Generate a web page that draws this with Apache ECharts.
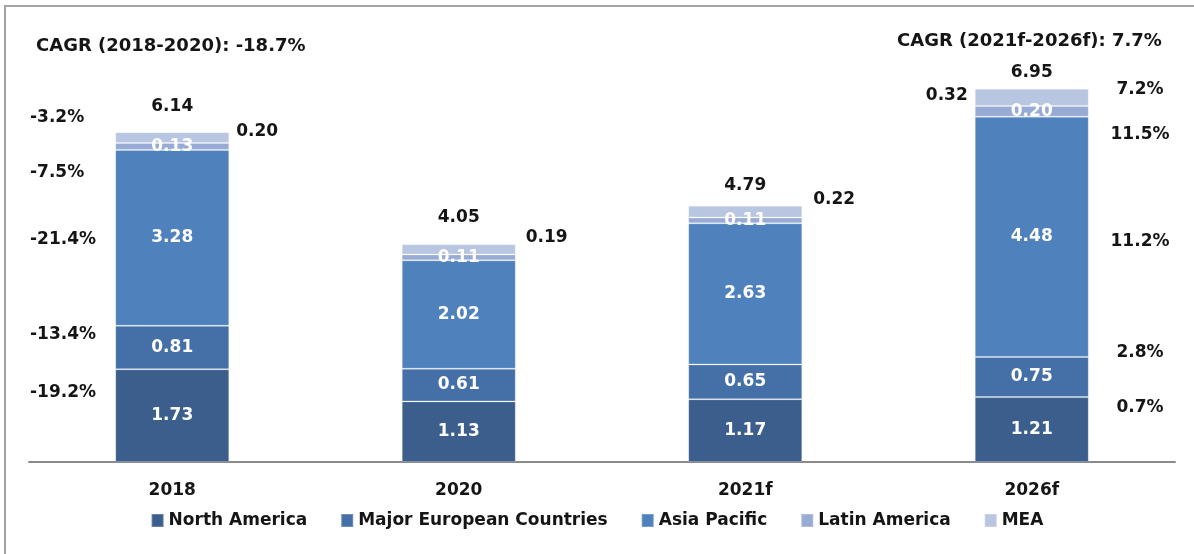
<!DOCTYPE html>
<html>
<head>
<meta charset="utf-8">
<script src="https://cdn.jsdelivr.net/npm/echarts@6/dist/echarts.min.js"></script>
<style>
  html, body { margin: 0; padding: 0; background: #fff; }
  #main { width: 1194px; height: 554px; }
</style>
</head>
<body>
<div id="main"></div>
<script>
// data
var categories = ['2018', '2020', '2021f', '2026f'];
var northAmerica = [1.73, 1.13, 1.17, 1.21];
var europe = [0.81, 0.61, 0.65, 0.75];
var asiaPacific = [3.28, 2.02, 2.63, 4.48];
var latinAmerica = [0.13, 0.11, 0.11, 0.20];
var mea = [0.20, 0.19, 0.22, 0.32];
var totals = [6.14, 4.05, 4.79, 6.95];
var seriesNames = ['North America', 'Major European Countries', 'Asia Pacific', 'Latin America', 'MEA'];
// CAGR per region, NA..MEA
var cagrPast = ['-19.2%', '-13.4%', '-21.4%', '-7.5%', '-3.2%'];
var cagrFuture = ['0.7%', '2.8%', '11.2%', '11.5%', '7.2%'];
var cagrTitlePast = 'CAGR (2018-2020): -18.7%';
var cagrTitleFuture = 'CAGR (2021f-2026f): 7.7%';

var colors = ['#3b5e8c', '#4570a7', '#4f81bd', '#97abd5', '#b9c6e1'];
var font = 'DejaVu Sans';
var txt = '#151515';

var chart = echarts.init(document.getElementById('main'));

function stackBar(name, data, color, labelFn) {
  return {
    name: name,
    type: 'bar',
    stack: 'all',
    barWidth: 114,
    itemStyle: { color: color, borderColor: 'rgba(255,255,255,0.22)', borderWidth: 1 },
    label: {
      show: true,
      position: 'inside',
      color: '#fff',
      fontFamily: font,
      fontWeight: 'bold',
      fontSize: 17,
      formatter: function (p) { return p.value.toFixed(2); }
    },
    data: labelFn ? data.map(labelFn) : data
  };
}

// outside labels for MEA
var meaLabel = [
  { position: 'right', distance: 7, offset: [0, -6] },
  { position: 'right', distance: 10, offset: [0, -12] },
  { position: 'right', distance: 11, offset: [0, -12] },
  { position: 'left', distance: 7, offset: [0, -2] }
];
var totalDist = [17, 18, 12, 8];

// text annotations (CAGR)
var leftY = [393, 335, 240, 173, 118];
var rightY = [408, 353, 242, 135, 90];
var graphics = [
  { type: 'rect', shape: { x: 5, y: 6, width: 1300, height: 700 },
    style: { fill: 'none', stroke: '#a3a3a3', lineWidth: 2 }, silent: true },
  { type: 'text', left: 36, top: 37,
    style: { text: cagrTitlePast, font: 'bold 18px "' + font + '"', fill: txt } },
  { type: 'text', left: 897, top: 32,
    style: { text: cagrTitleFuture, font: 'bold 18px "' + font + '"', fill: txt } }
];
cagrPast.forEach(function (t, i) {
  graphics.push({ type: 'text', x: 30, y: leftY[i],
    style: { text: t, font: 'bold 17px "' + font + '"', fill: txt, textAlign: 'left', textVerticalAlign: 'middle' } });
});
cagrFuture.forEach(function (t, i) {
  graphics.push({ type: 'text', x: 1140, y: rightY[i],
    style: { text: t, font: 'bold 17px "' + font + '"', fill: txt, textAlign: 'center', textVerticalAlign: 'middle' } });
});

var option = {
  animation: false,
  grid: { left: 29, right: 19, top: 33, bottom: 92 },
  legend: {
    data: seriesNames,
    bottom: 20,
    left: 'center',
    itemWidth: 12,
    itemHeight: 13,
    itemGap: 33,
    icon: 'rect',
    textStyle: { fontFamily: font, fontWeight: 'bold', fontSize: 17, color: txt }
  },
  xAxis: {
    type: 'category',
    data: categories,
    axisLine: { lineStyle: { color: '#8a8a8a', width: 2 } },
    axisTick: { length: 7, lineStyle: { color: '#8a8a8a', width: 2 } },
    axisLabel: { margin: 20, fontFamily: font, fontWeight: 'bold', fontSize: 17, color: txt }
  },
  yAxis: {
    type: 'value',
    min: 0,
    max: 8,
    show: false,
    splitLine: { show: false }
  },
  graphic: graphics,
  series: [
    stackBar(seriesNames[0], northAmerica, colors[0]),
    stackBar(seriesNames[1], europe, colors[1]),
    stackBar(seriesNames[2], asiaPacific, colors[2]),
    stackBar(seriesNames[3], latinAmerica, colors[3]),
    stackBar(seriesNames[4], mea, colors[4], function (v, i) {
      return { value: v, label: Object.assign({ color: txt }, meaLabel[i]) };
    }),
    {
      name: 'Total',
      type: 'bar',
      stack: 'all',
      barWidth: 114,
      itemStyle: { color: 'transparent' },
      label: {
        show: true,
        position: 'top',
        color: txt,
        fontFamily: font,
        fontWeight: 'bold',
        fontSize: 17
      },
      data: totals.map(function (t, i) {
        return { value: 0, label: { distance: totalDist[i], formatter: t.toFixed(2) } };
      })
    }
  ]
};
option && chart.setOption(option);
</script>
</body>
</html>
